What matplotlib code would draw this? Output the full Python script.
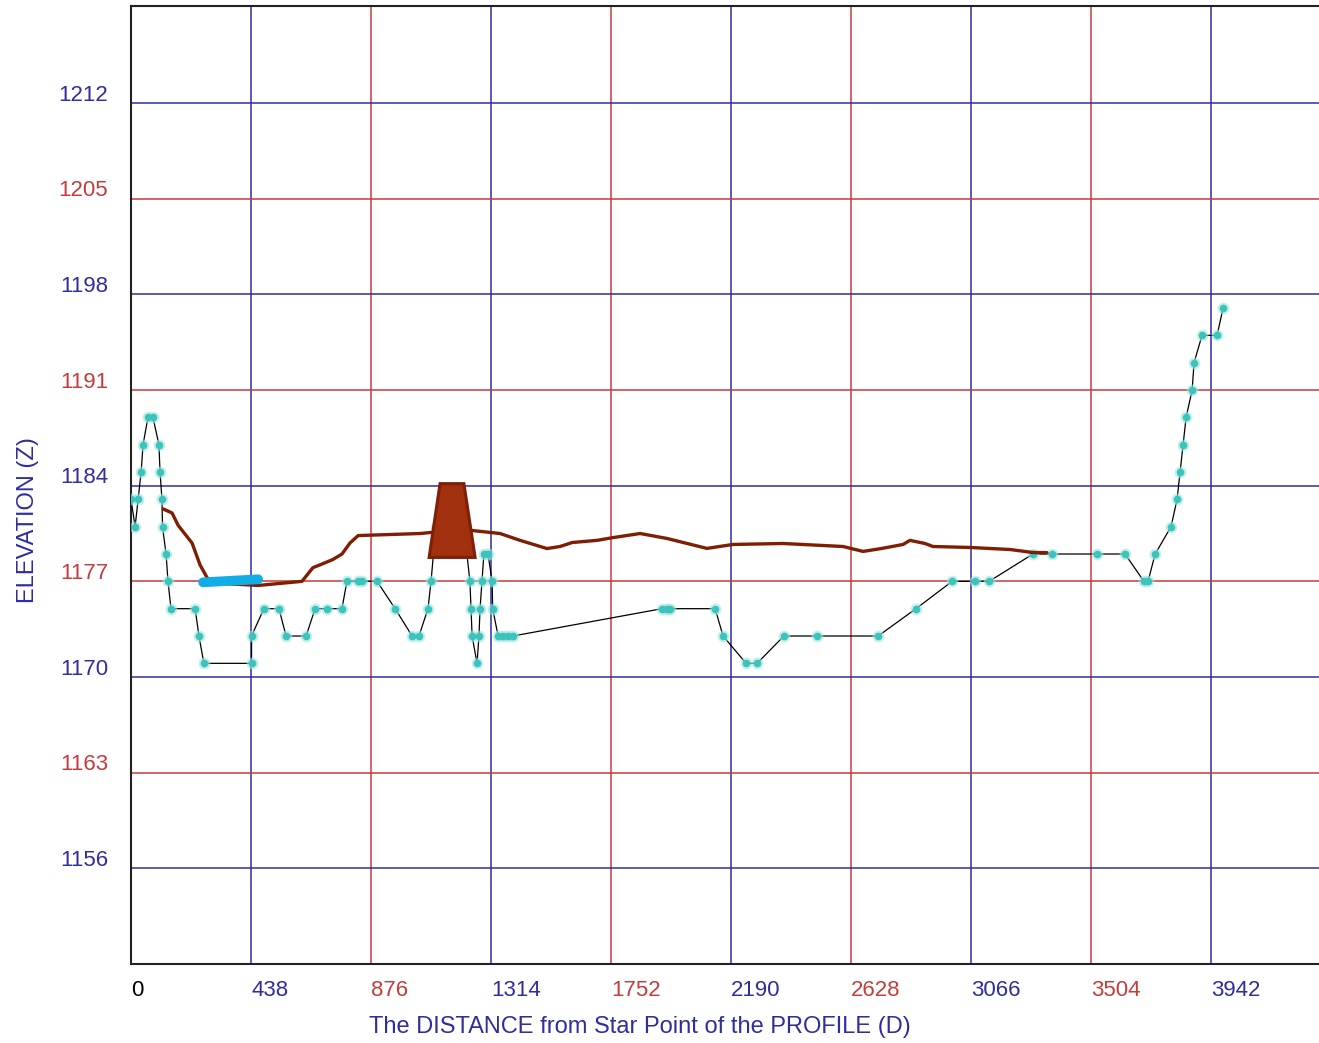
import matplotlib
matplotlib.use('Agg')
import matplotlib.pyplot as plt
from matplotlib.patches import Polygon

plt.rcParams['font.family'] = ['Liberation Sans', 'DejaVu Sans']

# ground profile points (distance, elevation)
dist = [0, 15, 26, 37, 44, 62, 80, 102, 106, 113, 115, 128, 135, 146, 234, 248, 266,
        440, 440, 485, 540, 566, 639, 672, 715, 770, 788, 829, 843, 898, 964, 1026,
        1051, 1084, 1095, 1113, 1215, 1237, 1241, 1245, 1263, 1270, 1274, 1281, 1288,
        1303, 1318, 1320, 1340, 1358, 1376, 1394, 1938, 1956, 1967, 2132, 2161, 2245,
        2285, 2383, 2504, 2727, 2865, 2997, 3081, 3132, 3292, 3362, 3526, 3628, 3697,
        3712, 3738, 3796, 3818, 3829, 3840, 3851, 3873, 3880, 3909, 3964, 3986]
elev = [1183, 1181, 1183, 1185, 1187, 1189, 1189, 1187, 1185, 1183, 1181, 1179, 1177,
        1175, 1175, 1173, 1171, 1171, 1173, 1175, 1175, 1173, 1173, 1175, 1175, 1175,
        1177, 1177, 1177, 1177, 1175, 1173, 1173, 1175, 1177, 1181, 1181, 1177, 1175,
        1173, 1171, 1173, 1175, 1177, 1179, 1179, 1177, 1175, 1173, 1173, 1173, 1173,
        1175, 1175, 1175, 1175, 1173, 1171, 1171, 1173, 1173, 1173, 1175, 1177, 1177,
        1177, 1179, 1179, 1179, 1179, 1177, 1177, 1179, 1181, 1183, 1185, 1187, 1189,
        1191, 1193, 1195, 1195, 1197]

# brown line (design level)
line_d = [117, 150, 172, 223, 252, 288, 464, 624, 664, 701, 737, 770, 799, 829, 1055,
          1091, 1245, 1347, 1420, 1518, 1566, 1610, 1701, 1759, 1858, 1956, 2102, 2197,
          2380, 2599, 2672, 2741, 2818, 2843, 2898, 2927, 3062, 3208, 3292, 3343]
line_z = [1182.3, 1182.0, 1181.1, 1179.8, 1178.2, 1176.9, 1176.7, 1177.0, 1178.0, 1178.3,
          1178.6, 1179.0, 1179.8, 1180.35, 1180.5, 1180.57, 1180.72, 1180.5, 1180.0, 1179.4,
          1179.55, 1179.84, 1180.0, 1180.2, 1180.5, 1180.14, 1179.41, 1179.7, 1179.77,
          1179.55, 1179.19, 1179.41, 1179.7, 1180.0, 1179.77, 1179.55, 1179.48, 1179.33,
          1179.11, 1179.1]

# blue segment
blue_d = [263, 464]
blue_z = [1176.93, 1177.15]

# trapezoid (top-left, top-right, bottom-right, bottom-left)
trap_d = [1128, 1215, 1256, 1088]
trap_z = [1184.15, 1184.15, 1178.75, 1178.75]

xticks = [0, 438, 876, 1314, 1752, 2190, 2628, 3066, 3504, 3942]
yticks = [1156, 1163, 1170, 1177, 1184, 1191, 1198, 1205, 1212]

navy = '#2E2E9E'
red = '#C43C3C'

fig = plt.figure(figsize=(13.19, 10.43), dpi=100)
ax = fig.add_axes([131 / 1319, 1 - 964 / 1043, 1 - 131 / 1319, (964 - 6) / 1043])
ax.set_xlim(0, 4336)
ax.set_ylim(1149, 1219.1)

for i, x in enumerate(xticks[1:]):
    ax.axvline(x, color=navy if i % 2 == 0 else red, lw=1.1, zorder=1)
for i, y in enumerate(yticks):
    ax.axhline(y, color=navy if i % 2 == 0 else red, lw=1.1, zorder=1)

ax.set_xticks([])
ax.set_yticks([])
for s in ['top', 'left', 'bottom']:
    ax.spines[s].set_color('#222222')
    ax.spines[s].set_linewidth(1.5)
ax.spines['right'].set_visible(False)

# tick labels
for i, x in enumerate(xticks):
    c = 'black' if i == 0 else (navy if i % 2 == 1 else red)
    ax.annotate(str(x), (x, 0), xycoords=('data', 'axes fraction'), xytext=(0, -27 * 0.72),
                textcoords='offset points', ha='left', va='center', fontsize=16, color=c,
                annotation_clip=False)
for i, y in enumerate(yticks):
    c = navy if i % 2 == 0 else red
    ax.annotate(str(y), (0, y), xycoords=('axes fraction', 'data'), xytext=(-23 * 0.72, 8 * 0.72),
                textcoords='offset points', ha='right', va='center', fontsize=16, color=c,
                annotation_clip=False)

fig.text(28 / 1319, 1 - 520 / 1043, 'ELEVATION (Z)', rotation=90, ha='center', va='center',
         fontsize=17, color=navy)
fig.text(640 / 1319, 1 - 1027 / 1043, 'The DISTANCE from Star Point of the PROFILE (D)',
         ha='center', va='center', fontsize=17, color=navy)

# profile
ax.plot(dist, elev, color='black', lw=0.9, zorder=3)
ax.plot(dist, elev, 'o', color='#9ee6e0', ms=8.5, alpha=0.6, mec='none', zorder=4)
ax.plot(dist, elev, 'o', color='#3cc4bc', ms=5.5, mec='none', zorder=5)

ax.plot(line_d, line_z, color='#7f1e02', lw=2.4, zorder=6, solid_capstyle='round')
ax.plot(blue_d, blue_z, color='#10ADE6', lw=7, zorder=7, solid_capstyle='round')

trap = Polygon(list(zip(trap_d, trap_z)), closed=True, facecolor='#A0300E',
               edgecolor='#7E2008', lw=2.2, zorder=8)
ax.add_patch(trap)

fig.savefig('out.png', dpi=100)
